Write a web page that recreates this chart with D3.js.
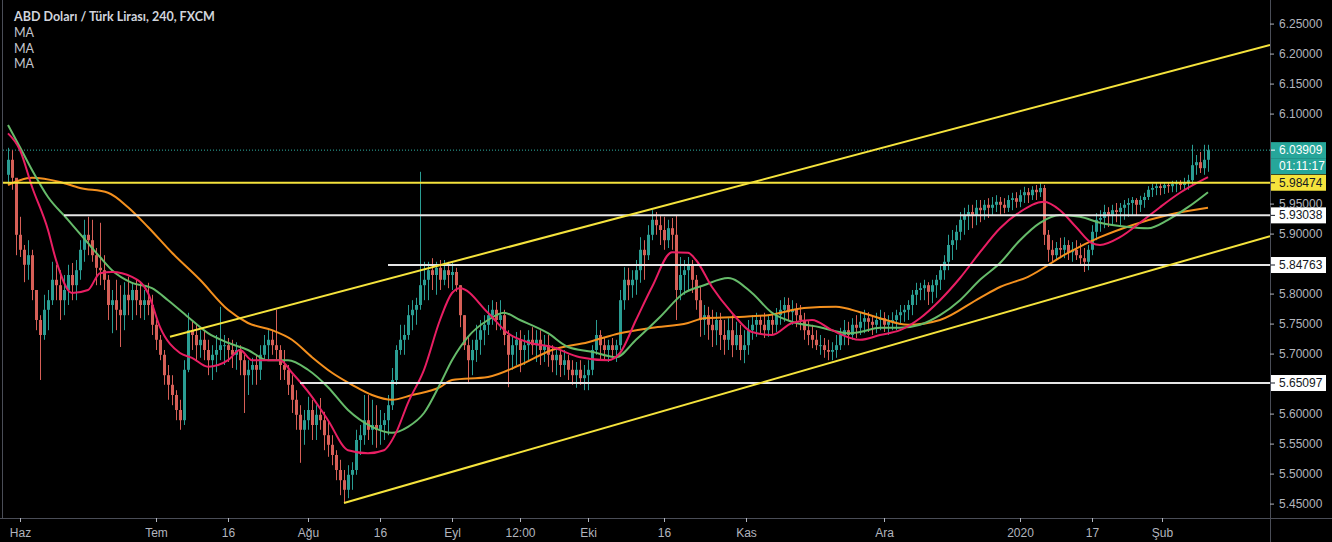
<!DOCTYPE html>
<html>
<head>
<meta charset="utf-8">
<script src="https://cdnjs.cloudflare.com/ajax/libs/d3/7.8.5/d3.min.js"></script>
<style>
  html, body { margin: 0; padding: 0; background: #000; }
  svg { display: block; }
</style>
</head>
<body>
<div id="chart"></div>
<script>
// bars: [high, low, close], open = previous close
var firstOpen = 5.998;
var may = [[6.043,5.981,6.023],[6.039,5.973,5.993],[5.989,5.864,5.898]];
var jun = [[5.928,5.861,5.873],[5.881,5.819,5.848],[5.889,5.823,5.864],[5.873,5.789,5.806],[5.798,5.739,5.756],
  [5.764,5.656,5.731],[5.798,5.723,5.773],[5.806,5.739,5.789],[5.853,5.781,5.823],[5.848,5.789,5.814],
  [5.839,5.756,5.789],[5.831,5.764,5.806],[5.848,5.781,5.831],[5.851,5.789,5.814],[5.856,5.789,5.839],
  [5.889,5.823,5.873],[5.923,5.853,5.898],[5.928,5.864,5.889],[5.923,5.853,5.864],[5.876,5.814,5.843],
  [5.918,5.814,5.839],[5.864,5.806,5.823],[5.831,5.756,5.781],[5.806,5.734,5.789],[5.823,5.739,5.773],
  [5.814,5.711,5.764],[5.819,5.739,5.798],[5.828,5.764,5.789],[5.819,5.756,5.806],[5.823,5.764,5.789],
  [5.818,5.759,5.781],[5.806,5.756,5.789],[5.818,5.764,5.781],[5.798,5.731,5.748]];
var jul = [[5.756,5.706,5.723],[5.731,5.689,5.698],[5.706,5.648,5.664],[5.681,5.623,5.648],[5.664,5.614,5.631],
  [5.639,5.589,5.606],[5.623,5.573,5.589],[5.689,5.581,5.673],[5.768,5.669,5.739],[5.756,5.706,5.731],
  [5.748,5.689,5.714],[5.739,5.693,5.723],[5.739,5.689,5.706],[5.723,5.664,5.689],[5.714,5.656,5.698],
  [5.731,5.669,5.706],[5.778,5.689,5.714],[5.731,5.681,5.714],[5.726,5.686,5.706],[5.723,5.676,5.698],
  [5.719,5.673,5.706],[5.714,5.664,5.689],[5.698,5.601,5.664],[5.689,5.631,5.673],[5.693,5.648,5.681],
  [5.698,5.648,5.673],[5.714,5.656,5.698],[5.731,5.689,5.714],[5.739,5.689,5.723],[5.739,5.698,5.714],
  [5.773,5.689,5.706],[5.714,5.656,5.681],[5.706,5.656,5.673],[5.681,5.631,5.648],[5.664,5.601,5.623],
  [5.639,5.573,5.598],[5.614,5.518,5.573],[5.606,5.548,5.589]];
var aug = [[5.628,5.573,5.606],[5.623,5.556,5.581],[5.614,5.556,5.598],[5.626,5.573,5.589],[5.603,5.539,5.564],
  [5.589,5.528,5.548],[5.564,5.514,5.531],[5.539,5.489,5.506],[5.523,5.464,5.489],[5.506,5.451,5.473],
  [5.514,5.459,5.498],[5.519,5.473,5.506],[5.573,5.498,5.556],[5.581,5.531,5.564],[5.631,5.548,5.589],
  [5.631,5.556,5.573],[5.623,5.548,5.581],[5.614,5.543,5.573],[5.606,5.548,5.581],[5.601,5.556,5.589],
  [5.631,5.564,5.614],[5.676,5.606,5.656],[5.714,5.648,5.706],[5.748,5.698,5.723],[5.748,5.698,5.731],
  [5.781,5.723,5.764],[5.789,5.739,5.773],[5.793,5.748,5.781],[6.003,5.773,5.814],[5.853,5.789,5.823],
  [5.853,5.789,5.839],[5.859,5.806,5.831],[5.853,5.798,5.843],[5.856,5.806,5.823],[5.856,5.814,5.839],
  [5.853,5.809,5.831]];
var sep = [[5.851,5.806,5.836],[5.843,5.803,5.814],[5.814,5.744,5.764],[5.764,5.706,5.714],[5.728,5.651,5.689],
  [5.723,5.664,5.706],[5.748,5.686,5.723],[5.756,5.698,5.739],[5.764,5.714,5.748],[5.781,5.731,5.764],
  [5.789,5.748,5.773],[5.786,5.739,5.756],[5.789,5.739,5.764],[5.773,5.714,5.731],[5.739,5.644,5.698],
  [5.731,5.673,5.714],[5.736,5.681,5.723],[5.739,5.669,5.706],[5.731,5.681,5.714],[5.739,5.689,5.723],
  [5.744,5.698,5.714],[5.739,5.686,5.723],[5.739,5.681,5.706],[5.731,5.686,5.714],[5.731,5.678,5.698],
  [5.714,5.669,5.689],[5.711,5.664,5.698],[5.706,5.661,5.681],[5.706,5.664,5.689],[5.698,5.656,5.673],
  [5.689,5.648,5.664],[5.686,5.643,5.673],[5.689,5.648,5.659],[5.681,5.639,5.664]];
var oct = [[5.689,5.639,5.673],[5.714,5.664,5.706],[5.756,5.698,5.731],[5.739,5.689,5.714],[5.726,5.689,5.706],
  [5.723,5.686,5.714],[5.726,5.693,5.706],[5.723,5.686,5.714],[5.806,5.706,5.789],[5.844,5.773,5.823],
  [5.843,5.789,5.814],[5.839,5.793,5.823],[5.856,5.798,5.839],[5.894,5.818,5.873],[5.889,5.823,5.864],
  [5.914,5.856,5.898],[5.939,5.889,5.923],[5.936,5.898,5.914],[5.931,5.881,5.906],[5.928,5.873,5.889],
  [5.923,5.876,5.909],[5.926,5.873,5.898],[5.931,5.756,5.806],[5.861,5.789,5.831],[5.856,5.798,5.839],
  [5.861,5.806,5.848],[5.856,5.801,5.823],[5.831,5.773,5.789],[5.811,5.728,5.756],[5.781,5.731,5.764],
  [5.778,5.723,5.748],[5.773,5.711,5.739],[5.769,5.714,5.756],[5.768,5.706,5.731],[5.756,5.698,5.723],
  [5.759,5.706,5.739],[5.764,5.694,5.714],[5.753,5.706,5.731],[5.748,5.689,5.706],[5.739,5.684,5.714]];
var nov = [[5.756,5.698,5.739],[5.764,5.723,5.748],[5.768,5.728,5.756],[5.764,5.731,5.748],[5.768,5.726,5.739],
  [5.764,5.728,5.756],[5.769,5.731,5.748],[5.776,5.736,5.764],[5.789,5.748,5.773],[5.794,5.753,5.781],
  [5.793,5.756,5.769],[5.789,5.748,5.773],[5.784,5.744,5.764],[5.781,5.739,5.756],[5.768,5.723,5.739],
  [5.756,5.714,5.731],[5.748,5.709,5.723],[5.739,5.706,5.714],[5.731,5.698,5.714],[5.726,5.693,5.706],
  [5.723,5.689,5.703],[5.719,5.689,5.706],[5.731,5.693,5.714],[5.743,5.706,5.731],[5.756,5.714,5.739],
  [5.753,5.714,5.731],[5.759,5.723,5.748],[5.764,5.726,5.743],[5.769,5.731,5.753],[5.773,5.734,5.759],
  [5.769,5.736,5.753],[5.764,5.731,5.748],[5.768,5.734,5.756],[5.773,5.739,5.759]];
var dec = [[5.769,5.736,5.748],[5.764,5.731,5.753],[5.769,5.739,5.756],[5.773,5.739,5.764],[5.781,5.748,5.769],
  [5.781,5.753,5.773],[5.789,5.756,5.781],[5.806,5.764,5.798],[5.818,5.781,5.806],[5.818,5.789,5.809],
  [5.823,5.789,5.814],[5.819,5.781,5.803],[5.823,5.784,5.814],[5.831,5.793,5.823],[5.848,5.806,5.839],
  [5.864,5.823,5.853],[5.898,5.839,5.881],[5.906,5.856,5.889],[5.914,5.873,5.903],[5.936,5.889,5.923],
  [5.943,5.898,5.931],[5.948,5.906,5.936],[5.948,5.909,5.931],[5.956,5.914,5.943],[5.956,5.919,5.939],
  [5.956,5.923,5.948],[5.959,5.926,5.943],[5.961,5.931,5.948],[5.964,5.936,5.953],[5.961,5.931,5.948],
  [5.959,5.934,5.943],[5.964,5.936,5.956],[5.968,5.939,5.959],[5.969,5.943,5.953]];
var jan = [[5.973,5.944,5.964],[5.978,5.951,5.969],[5.976,5.951,5.964],[5.979,5.956,5.973],[5.981,5.956,5.969],
  [5.986,5.961,5.976],[5.981,5.881,5.898],[5.906,5.853,5.873],[5.889,5.853,5.864],[5.886,5.856,5.876],
  [5.893,5.859,5.873],[5.894,5.859,5.881],[5.889,5.856,5.869],[5.886,5.853,5.873],[5.889,5.856,5.864],
  [5.884,5.848,5.859],[5.876,5.836,5.853],[5.881,5.839,5.873],[5.914,5.864,5.903],[5.934,5.889,5.923],
  [5.939,5.903,5.926],[5.948,5.909,5.936],[5.944,5.911,5.931],[5.948,5.914,5.939],[5.951,5.919,5.936],
  [5.951,5.914,5.943],[5.956,5.923,5.948],[5.959,5.928,5.951],[5.961,5.931,5.956],[5.959,5.931,5.948],
  [5.963,5.936,5.956],[5.968,5.943,5.961],[5.979,5.956,5.973],[5.983,5.961,5.976],[5.984,5.964,5.979],
  [5.984,5.964,5.976]];
var feb = [[5.986,5.966,5.981],[5.986,5.968,5.979],[5.988,5.969,5.983],[5.989,5.969,5.984],[5.989,5.973,5.981],
  [5.993,5.973,5.986],[5.998,5.973,5.989],[6.048,5.981,6.014],[6.031,5.998,6.019],[6.036,6.001,6.009],
  [6.048,5.998,6.023],[6.048,6.003,6.03909]];

// moving averages: [bar index, value]
var maFast = [[0,6.067],[3,6.039],[6,5.978],[10,5.906],[12,5.856],[16,5.801],[20,5.806],[23,5.834],[26,5.836],
  [31,5.828],[35,5.801],[38,5.744],[43,5.701],[46,5.693],[50,5.678],[55,5.689],[58,5.706],[61,5.689],[65,5.689],
  [68,5.689],[71,5.668],[76,5.628],[80,5.589],[85,5.539],[90,5.534],[94,5.539],[97,5.568],[100,5.618],[104,5.673],
  [108,5.756],[111,5.801],[113,5.809],[120,5.768],[125,5.734],[130,5.719],[136,5.711],[143,5.694],[150,5.689],
  [153,5.701],[157,5.756],[161,5.811],[166,5.869],[170,5.868],[172,5.856],[176,5.811],[181,5.768],[186,5.736],
  [191,5.731],[196,5.751],[201,5.756],[206,5.739],[213,5.723],[218,5.731],[223,5.739],[228,5.759],[233,5.789],
  [238,5.826],[243,5.869],[248,5.909],[253,5.936],[259,5.953],[263,5.939],[267,5.911],[271,5.884],[273,5.881],
  [278,5.894],[283,5.918],[288,5.944],[293,5.968],[300,5.994]];
var maMid = [[0,6.081],[3,6.044],[6,6.006],[10,5.961],[15,5.923],[20,5.884],[23,5.861],[26,5.839],[31,5.818],
  [36,5.809],[40,5.789],[45,5.761],[50,5.734],[55,5.718],[60,5.706],[65,5.689],[70,5.689],[75,5.673],[80,5.644],
  [85,5.606],[91,5.578],[96,5.568],[100,5.578],[104,5.601],[108,5.649],[111,5.689],[115,5.728],[120,5.756],
  [124,5.768],[128,5.756],[135,5.734],[140,5.711],[146,5.703],[152,5.694],[157,5.723],[163,5.761],[169,5.801],
  [174,5.814],[180,5.826],[186,5.801],[191,5.768],[196,5.753],[203,5.744],[210,5.734],[213,5.736],[218,5.743],
  [223,5.743],[228,5.748],[233,5.764],[238,5.789],[243,5.823],[248,5.851],[253,5.889],[258,5.918],[263,5.931],
  [268,5.928],[273,5.918],[280,5.911],[285,5.909],[290,5.923],[295,5.944],[300,5.969]];
var maSlow = [[0,5.981],[3,5.989],[6,5.993],[13,5.986],[18,5.976],[25,5.968],[30,5.944],[35,5.911],[41,5.868],
  [48,5.823],[55,5.773],[60,5.751],[66,5.739],[71,5.723],[76,5.694],[81,5.668],[86,5.648],[91,5.631],[96,5.623],
  [101,5.631],[108,5.644],[111,5.656],[120,5.661],[128,5.681],[136,5.706],[145,5.719],[153,5.734],[161,5.743],
  [170,5.751],[174,5.759],[182,5.761],[190,5.764],[199,5.776],[207,5.778],[213,5.769],[218,5.759],[225,5.748],
  [233,5.756],[243,5.793],[248,5.811],[255,5.828],[265,5.868],[273,5.894],[281,5.914],[290,5.931],[300,5.943]];

// drawn levels: price, first bar index (null = full width)
var levelPrices = [5.98474, 5.93038, 5.84763, 5.65097];
var levelStart  = [null, 14, 95, 73];
var levelColors = ["#f5e33c", "#e6e6e6", "#e6e6e6", "#e6e6e6"];
var trendUpper = [[40.5, 5.728], [300, 6.187]];
var trendLower = [[84, 5.451], [300, 5.866]];

var lastPrice = 6.03909;
var countdown = "01:11:17";
var priceTicks = d3.range(5.45, 6.2501, 0.05);
var timeTicks = [["Haz",3],["Tem",37],["16",55],["Ağu",75],["16",93],["Eyl",111],["12:00",128],["Eki",145],
  ["16",164],["Kas",184.5],["Ara",219],["2020",253],["17",271],["Şub",288.5]];

var W = 1332, H = 542;
var plotRight = 1270, plotBottom = 518;
var axisColor = "#b2b5be", lineColor = "#4a4d57";
var upColor = "#2a9d93", downColor = "#d65f57";
var font = "'Liberation Sans Narrow', 'Arial Narrow', 'Liberation Sans', sans-serif";

var bars = [];
var prev = firstOpen;
[may, jun, jul, aug, sep, oct, nov, dec, jan, feb].forEach(function(m) {
  m.forEach(function(b) {
    bars.push({i: bars.length, o: prev, h: b[0], l: b[1], c: b[2]});
    prev = b[2];
  });
});

var x = d3.scaleLinear().domain([0, 300]).range([8, 1208]);
var y = d3.scaleLinear().domain([5.4260, 6.2893]).range([plotBottom, 0]);
var xEnd = x.invert(plotRight);

var svg = d3.select("#chart").append("svg")
  .attr("width", W).attr("height", H)
  .style("background", "#000");

svg.append("clipPath").attr("id", "plotclip")
  .append("rect").attr("x", 3).attr("y", 0).attr("width", plotRight - 3).attr("height", plotBottom);

var g = svg.append("g").attr("clip-path", "url(#plotclip)");

// current price dotted line
g.append("line")
  .attr("x1", 3).attr("x2", plotRight)
  .attr("y1", y(lastPrice)).attr("y2", y(lastPrice))
  .attr("stroke", "#2fb3a6").attr("stroke-width", 1).attr("stroke-dasharray", "1,2");

// candles
var candle = g.append("g").selectAll("g").data(bars).enter().append("g");
candle.append("line")
  .attr("x1", function(d) { return x(d.i) + 0.5; })
  .attr("x2", function(d) { return x(d.i) + 0.5; })
  .attr("y1", function(d) { return y(d.h); })
  .attr("y2", function(d) { return y(d.l); })
  .attr("stroke", function(d) { return d.c >= d.o ? upColor : downColor; })
  .attr("stroke-width", 1);
candle.append("rect")
  .attr("x", function(d) { return x(d.i) - 1; })
  .attr("width", 3)
  .attr("y", function(d) { return y(Math.max(d.o, d.c)); })
  .attr("height", function(d) { return Math.max(1, Math.abs(y(d.o) - y(d.c))); })
  .attr("fill", function(d) { return d.c >= d.o ? upColor : downColor; });

// moving averages
var maLine = d3.line()
  .x(function(d) { return x(d[0]); })
  .y(function(d) { return y(d[1]); })
  .curve(d3.curveMonotoneX);

g.append("path").datum(maSlow).attr("d", maLine)
  .attr("fill", "none").attr("stroke", "#f4901e").attr("stroke-width", 2);
g.append("path").datum(maMid).attr("d", maLine)
  .attr("fill", "none").attr("stroke", "#66bb6a").attr("stroke-width", 2);
g.append("path").datum(maFast).attr("d", maLine)
  .attr("fill", "none").attr("stroke", "#e91e63").attr("stroke-width", 2);

// horizontal levels
levelPrices.forEach(function(p, k) {
  g.append("line")
    .attr("x1", levelStart[k] === null ? 3 : x(levelStart[k]))
    .attr("x2", plotRight)
    .attr("y1", y(p)).attr("y2", y(p))
    .attr("stroke", levelColors[k]).attr("stroke-width", 2);
});

// trend channel, extended to the right edge
[trendUpper, trendLower].forEach(function(t) {
  var slope = (t[1][1] - t[0][1]) / (t[1][0] - t[0][0]);
  var endVal = t[0][1] + slope * (xEnd - t[0][0]);
  g.append("line")
    .attr("x1", x(t[0][0])).attr("y1", y(t[0][1]))
    .attr("x2", x(xEnd)).attr("y2", y(endVal))
    .attr("stroke", "#f5e33c").attr("stroke-width", 2);
});

// frame
svg.append("line").attr("x1", 0).attr("x2", W).attr("y1", plotBottom + 0.5).attr("y2", plotBottom + 0.5)
  .attr("stroke", lineColor);
svg.append("line").attr("x1", plotRight + 0.5).attr("x2", plotRight + 0.5).attr("y1", 0).attr("y2", H)
  .attr("stroke", lineColor);
svg.append("line").attr("x1", 2.5).attr("x2", 2.5).attr("y1", 0).attr("y2", plotBottom)
  .attr("stroke", lineColor);

// price axis
var badges = [
  {v: lastPrice, y: y(lastPrice), text: d3.format(".5f")(lastPrice), bg: "#26a69a", fg: "#ffffff"},
  {v: null, y: y(lastPrice) + 16, text: countdown, bg: "#26a69a", fg: "#ffffff"}
];
levelPrices.forEach(function(p, k) {
  badges.push({v: p, y: y(p), text: d3.format(".5f")(p),
    bg: k === 0 ? "#f5e33c" : "#ffffff", fg: "#131722"});
});

var yAxis = d3.axisRight(y)
  .tickValues(priceTicks.filter(function(v) {
    return badges.every(function(b) { return Math.abs(b.y - y(v)) > 11; });
  }))
  .tickFormat(d3.format(".5f"))
  .tickSize(4).tickPadding(5);
var ya = svg.append("g").attr("transform", "translate(" + plotRight + ",0)").call(yAxis);
ya.select(".domain").remove();
ya.selectAll("line").attr("stroke", axisColor);
ya.selectAll("text").attr("fill", axisColor).style("font-family", font).style("font-size", "12px");

var badge = svg.append("g").selectAll("g").data(badges).enter().append("g")
  .attr("transform", function(d) { return "translate(" + (plotRight + 1) + "," + d.y + ")"; });
badge.append("rect").attr("x", 0).attr("y", -8).attr("width", 55).attr("height", 16)
  .attr("fill", function(d) { return d.bg; });
badge.filter(function(d) { return d.v !== null; }).append("line")
  .attr("x1", 0).attr("x2", 4).attr("y1", 0).attr("y2", 0)
  .attr("stroke", function(d) { return d.fg; });
badge.append("text").attr("x", 8).attr("y", 4)
  .attr("fill", function(d) { return d.fg; })
  .style("font-family", font).style("font-size", "12px")
  .text(function(d) { return d.text; });

// time axis
var xAxis = d3.axisBottom(x)
  .tickValues(timeTicks.map(function(t) { return t[1]; }))
  .tickFormat(function(d, i) { return timeTicks[i][0]; })
  .tickSize(4).tickPadding(6);
var xa = svg.append("g").attr("transform", "translate(0," + plotBottom + ")").call(xAxis);
xa.select(".domain").remove();
xa.selectAll("line").attr("stroke", axisColor);
xa.selectAll("text").attr("fill", axisColor).style("font-family", font).style("font-size", "12px");

// legend
var legend = svg.append("g").attr("transform", "translate(14,0)");
legend.append("text").attr("y", 21)
  .attr("fill", "#d1d4dc").style("font-family", "Lato, 'Open Sans', sans-serif")
  .style("font-size", "12.5px").style("font-weight", "bold")
  .text("ABD Doları / Türk Lirası, 240, FXCM");
["MA", "MA", "MA"].forEach(function(t, k) {
  legend.append("text").attr("y", 37 + k * 15.5)
    .attr("fill", "#c3c6ce").style("font-family", "Lato, 'Open Sans', sans-serif")
    .style("font-size", "12.5px").text(t);
});
</script>
</body>
</html>
